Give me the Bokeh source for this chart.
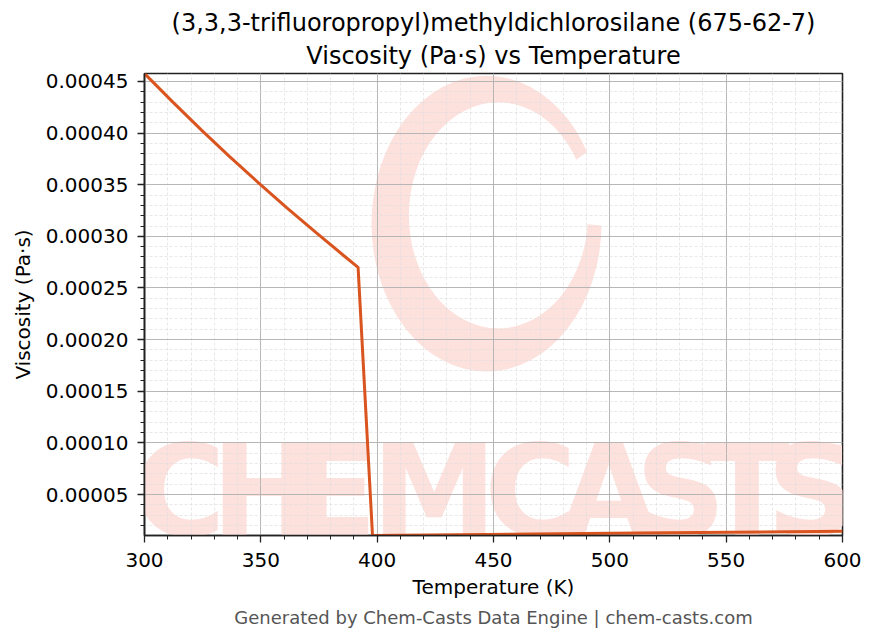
from bokeh.plotting import figure
from bokeh.models import (Range1d, SingleIntervalTicker, PrintfTickFormatter, Title,
                          ColumnDataSource)
from bokeh.core.properties import value
from bokeh.embed import file_html
from bokeh.resources import INLINE

# ---------------- data ----------------
temperature_k = [300.0, 312.2, 324.5, 336.7, 349.0, 361.2, 373.5, 385.7, 391.8,
                 398.0, 446.9, 500.0, 551.0, 600.0]
viscosity_pa_s = [0.0004577, 0.0004300, 0.0004029, 0.0003770, 0.0003518, 0.0003276,
                  0.0003040, 0.0002812, 0.0002700,
                  0.0000103, 0.0000113, 0.0000124, 0.0000134, 0.0000145]

x_start, x_end = 300, 600
y_start, y_end = 0.0000103, 0.0004577

title_line1 = "(3,3,3-trifluoropropyl)methyldichlorosilane (675-62-7)"
title_line2 = "Viscosity (Pa·s) vs Temperature"
x_label = "Temperature (K)"
y_label = "Viscosity (Pa·s)"
footer = "Generated by Chem-Casts Data Engine | chem-casts.com"
watermark_letters = ["C", "H", "E", "M", "C", "A", "S", "T", "S"]
watermark_pos = [0.050, 0.171, 0.272, 0.415, 0.553, 0.665, 0.768, 0.863, 0.956]

FONT = "DejaVu Sans"
LINE_COLOR = "#D9541E"
WM_COLOR = "#FDE1DD"

p = figure(width=868, height=630, output_backend="svg", toolbar_location=None,
           x_range=Range1d(x_start, x_end), y_range=Range1d(y_start, y_end),
           min_border_left=144, min_border_right=26, min_border_top=73,
           min_border_bottom=18)
p.title = None

# titles (two lines)
t2 = Title(text=title_line2, align="center", text_font=FONT, text_font_size="24px",
           text_font_style="normal", text_color="black", standoff=7)
t1 = Title(text=title_line1, align="center", text_font=FONT, text_font_size="24px",
           text_font_style="normal", text_color="black", standoff=0)
p.add_layout(t2, "above")
p.add_layout(t1, "above")

# footer
ft = Title(text=footer, align="center", text_font=FONT, text_font_size="18px",
           text_font_style="normal", text_color="#555555", standoff=6)
p.add_layout(ft, "below")

# ---------------- watermark ----------------
xr = x_end - x_start
yr = y_end - y_start
p.ellipse(x=[x_start + 0.49 * xr], y=[y_start + 0.675 * yr], width=230, height=296,
          width_units="screen", height_units="screen", fill_color=WM_COLOR,
          line_color=None, level="image")
p.ellipse(x=[x_start + 0.507 * xr], y=[y_start + 0.693 * yr], width=179, height=226,
          width_units="screen", height_units="screen", fill_color="white",
          line_color=None, level="image")
p.wedge(x=[x_start + 0.507 * xr], y=[y_start + 0.693 * yr], radius=130,
        radius_units="screen", start_angle=-0.10, end_angle=0.62,
        fill_color="white", line_color=None, level="image")
wm_src = ColumnDataSource(dict(x=[x_start + f * xr for f in watermark_pos],
                               y=[y_start + 0.095 * yr] * len(watermark_pos),
                               t=watermark_letters))
p.text(x="x", y="y", text="t", source=wm_src, text_font=value(FONT),
       text_font_style="bold", text_font_size="126px", text_color=WM_COLOR,
       text_align="center", text_baseline="middle", level="image")

# ---------------- data line ----------------
p.line(temperature_k, viscosity_pa_s, line_color=LINE_COLOR, line_width=3)

# ---------------- axes / grid ----------------
p.xaxis.ticker = SingleIntervalTicker(interval=50, num_minor_ticks=5)
p.yaxis.ticker = SingleIntervalTicker(interval=0.00005, num_minor_ticks=5)
p.yaxis.formatter = PrintfTickFormatter(format="%.5f")

for ax in (p.xaxis[0], p.yaxis[0]):
    ax.axis_line_color = "#222222"
    ax.axis_line_width = 1.6
    ax.major_tick_line_color = "#222222"
    ax.minor_tick_line_color = "#222222"
    ax.major_tick_line_width = 1.3
    ax.minor_tick_line_width = 1.0
    ax.major_tick_out = 7
    ax.major_tick_in = 0
    ax.minor_tick_out = 4
    ax.minor_tick_in = 0
    ax.major_label_text_font = FONT
    ax.major_label_text_font_size = "20px"
    ax.major_label_text_color = "black"
    ax.axis_label_text_font = FONT
    ax.axis_label_text_font_size = "20px"
    ax.axis_label_text_font_style = "normal"
    ax.axis_label_text_color = "black"

p.xaxis.axis_label = x_label
p.yaxis.axis_label = y_label
p.xaxis.major_label_standoff = 10
p.yaxis.major_label_standoff = 9
p.xaxis.axis_label_standoff = 5
p.yaxis.axis_label_standoff = 8

p.xgrid.grid_line_color = "#b0b0b0"
p.ygrid.grid_line_color = "#b0b0b0"
p.xgrid.grid_line_width = 0.9
p.ygrid.grid_line_width = 0.9
p.xgrid.minor_grid_line_color = "#dedede"
p.ygrid.minor_grid_line_color = "#dedede"
p.xgrid.minor_grid_line_dash = "3 2"
p.ygrid.minor_grid_line_dash = "3 2"
p.xgrid.minor_grid_line_width = 0.7
p.ygrid.minor_grid_line_width = 0.7

p.outline_line_color = "#222222"
p.outline_line_width = 1.6
p.background_fill_color = "white"
p.border_fill_color = "white"

open("out.html", "w").write(file_html(p, INLINE))
